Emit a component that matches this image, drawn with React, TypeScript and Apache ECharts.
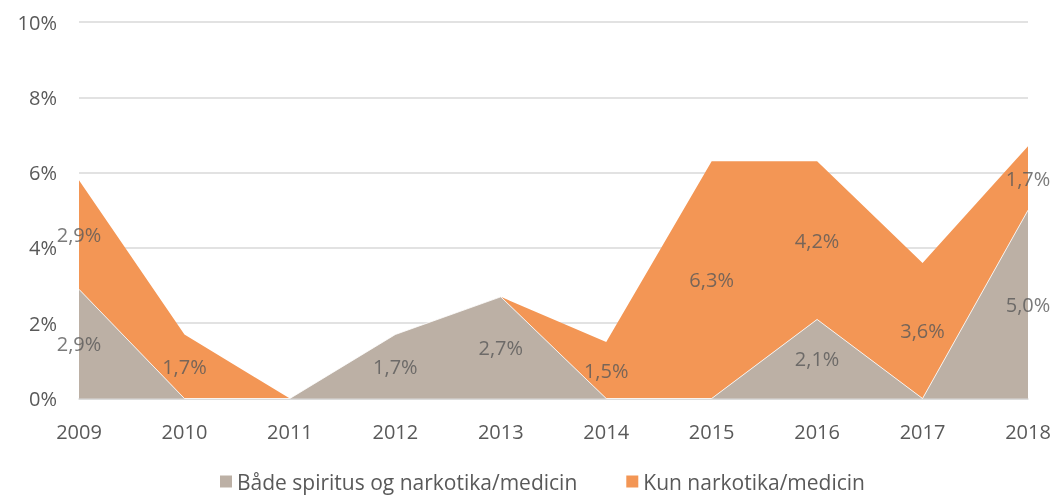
import React, { useEffect, useRef } from "react";
import * as echarts from "echarts";

const years = ["2009", "2010", "2011", "2012", "2013", "2014", "2015", "2016", "2017", "2018"];
const bothValues = [2.9, 0, 0, 1.7, 2.7, 0, 0, 2.1, 0, 5.0];
const onlyValues = [2.9, 1.7, 0, 0, 0, 1.5, 6.3, 4.2, 3.6, 1.7];
const seriesNames = ["Både spiritus og narkotika/medicin", "Kun narkotika/medicin"];
const yTicks = [0, 2, 4, 6, 8, 10];

const GRAY = "#BCB0A5";
const ORANGE = "#F39655";
const TEXT = "#595959";
const FONT = "'Open Sans', sans-serif";

const fmt = (v: number) => v.toFixed(1).replace(".", ",") + "%";

export default function App() {
  const ref = useRef<HTMLDivElement>(null);
  useEffect(() => {
    if (!ref.current) return;
    const chart = echarts.init(ref.current, undefined, { renderer: "svg" });

    const bothLabels = bothValues.map((v, i) =>
      v > 0 ? { value: [i, v / 2], raw: v } : { value: [i, "-"], raw: 0 }
    );
    const onlyLabels = onlyValues.map((v, i) =>
      v > 0 ? { value: [i, bothValues[i] + v / 2], raw: v } : { value: [i, "-"], raw: 0 }
    );

    const labelStyle = {
      show: true,
      position: "inside",
      color: TEXT,
      fontSize: 20,
      fontFamily: FONT,
      formatter: (p: any) => (p.data.raw > 0 ? fmt(p.data.raw) : ""),
    };

    chart.setOption({
      animation: false,
      textStyle: { fontFamily: FONT },
      grid: { left: 79, right: 36, top: 22, bottom: 97.5, containLabel: false },
      legend: {
        data: seriesNames,
        top: 466,
        left: 215,
        icon: "rect",
        itemWidth: 12,
        itemHeight: 12,
        itemGap: 49,
        textStyle: { color: TEXT, fontSize: 21, fontFamily: FONT },
      },
      xAxis: {
        type: "category",
        data: years,
        boundaryGap: false,
        axisLine: { show: true, lineStyle: { color: "#d9d9d9", width: 1.5 } },
        axisTick: { show: false },
        axisLabel: { color: TEXT, fontSize: 20, fontFamily: FONT, margin: 23 },
      },
      yAxis: {
        type: "value",
        min: yTicks[0],
        max: yTicks[yTicks.length - 1],
        interval: 2,
        axisLine: { show: false },
        axisTick: { show: false },
        splitLine: { lineStyle: { color: "#d9d9d9", width: 1.5 } },
        axisLabel: {
          color: TEXT,
          fontSize: 20,
          fontFamily: FONT,
          margin: 22,
          formatter: (v: number) => v + "%",
        },
      },
      series: [
        {
          name: seriesNames[0],
          type: "line",
          stack: "total",
          data: bothValues,
          symbol: "none",
          lineStyle: { width: 0.8, color: "#ffffff" },
          areaStyle: { color: GRAY, opacity: 1 },
          itemStyle: { color: GRAY },
          z: 2,
        },
        {
          name: seriesNames[1],
          type: "line",
          stack: "total",
          data: onlyValues,
          symbol: "none",
          lineStyle: { width: 0 },
          areaStyle: { color: ORANGE, opacity: 1 },
          itemStyle: { color: ORANGE },
          z: 1,
        },
        {
          name: "bothLabels",
          type: "scatter",
          data: bothLabels,
          symbolSize: 0,
          label: labelStyle,
          silent: true,
          z: 5,
        },
        {
          name: "onlyLabels",
          type: "scatter",
          data: onlyLabels,
          symbolSize: 0,
          label: labelStyle,
          silent: true,
          z: 5,
        },
      ],
    });
    return () => chart.dispose();
  }, []);
  return (
    <div
      ref={ref}
      style={{ position: "fixed", left: 0, top: 0, width: 1064, height: 496 }}
    />
  );
}
